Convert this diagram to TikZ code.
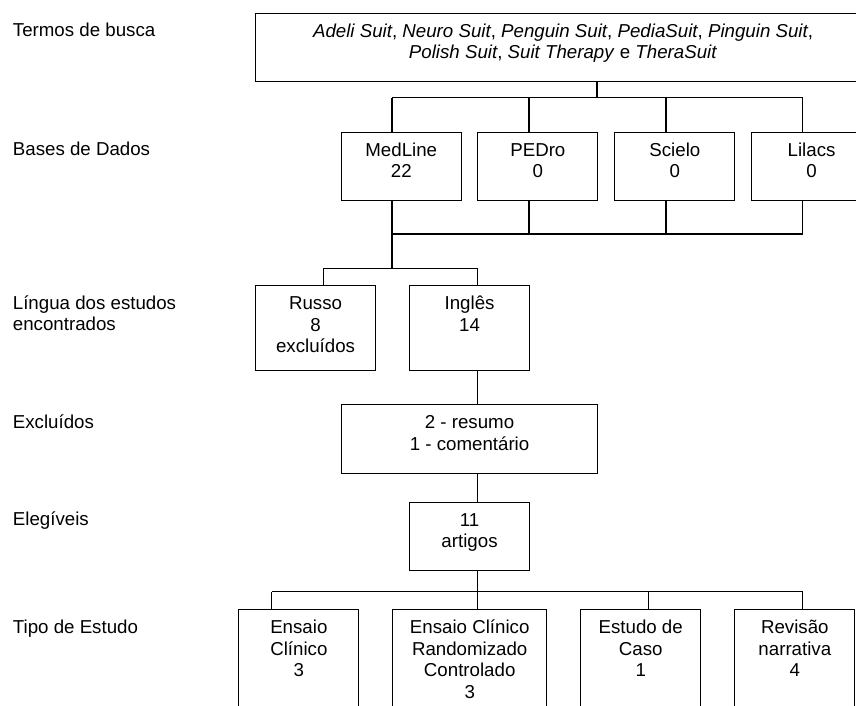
\documentclass[tikz,border=0pt]{standalone}
\usepackage{fontspec}
\setmainfont{Liberation Sans}
\usepackage{tikz}
\newcommand{\caixatexto}[3]{\parbox[t][#2][t]{#1}{\centering\rule{0pt}{24pt}#3}}

\begin{document}
\begin{tikzpicture}[x=1pt,y=-1pt,
  font=\fontsize{18.7}{21.7}\selectfont,
  caixa/.style={draw,line width=1.1pt,inner sep=0pt,anchor=north west},
  rotulo/.style={anchor=base west,inner sep=0pt},
  liga/.style={draw,line width=1.1pt},
]
\useasboundingbox (0,0) rectangle (856,706);
\clip (0,0) rectangle (856,706);
% rotulos das etapas
\node[rotulo] (termos) at (12.7,36.7) {Termos de busca};
\node[rotulo] (bases) at (12.7,155.7) {Bases de Dados};
\node[rotulo] (lingua) at (12.7,309) {\parbox[t]{230pt}{L\'ingua dos estudos\\encontrados}};
\node[rotulo] (exclu) at (12.7,428) {Exclu\'idos};
\node[rotulo] (elegi) at (12.7,525.7) {Eleg\'iveis};
\node[rotulo] (tipo) at (12.7,633) {Tipo de Estudo};
% caixas
\node[caixa] (topo) at (255,12.7) {\caixatexto{615pt}{68pt}{\textit{Adeli Suit}, \textit{Neuro Suit}, \textit{Penguin Suit}, \textit{PediaSuit}, \textit{Pinguin Suit},\\\textit{Polish Suit}, \textit{Suit Therapy} e \textit{TheraSuit}}};
\node[caixa] (medline) at (340.7,131.7) {\caixatexto{120pt}{68.3pt}{MedLine\\22}};
\node[caixa] (pedro) at (477.3,131.7) {\caixatexto{120pt}{68.3pt}{PEDro\\0}};
\node[caixa] (scielo) at (614.3,131.7) {\caixatexto{120pt}{68.3pt}{Scielo\\0}};
\node[caixa] (lilacs) at (751,131.7) {\caixatexto{120pt}{68.3pt}{Lilacs\\0}};
\node[caixa] (russo) at (255,285) {\caixatexto{120pt}{85pt}{Russo\\8\\exclu\'idos}};
\node[caixa] (ingles) at (409,285) {\caixatexto{120pt}{85pt}{Ingl\^es\\14}};
\node[caixa] (excl) at (340.7,404) {\caixatexto{256.6pt}{68.7pt}{2 - resumo\\1 - coment\'ario}};
\node[caixa] (eleg) at (409,501.7) {\caixatexto{120pt}{68.3pt}{11\\artigos}};
\node[caixa] (ensaio) at (238.3,609) {\caixatexto{120pt}{130pt}{Ensaio\\Cl\'inico\\3}};
\node[caixa] (ecrc) at (392.3,609) {\caixatexto{153.7pt}{130pt}{Ensaio Cl\'inico\\Randomizado\\Controlado\\3}};
\node[caixa] (caso) at (580.3,609) {\caixatexto{119.7pt}{130pt}{Estudo de\\Caso\\1}};
\node[caixa] (revisao) at (734.3,609) {\caixatexto{120pt}{130pt}{Revis\~ao\\narrativa\\4}};
% barramentos
\coordinate (bA) at (392,97.7);
\coordinate (cA) at (392,234);
\coordinate (dA) at (323.3,268.3);
\coordinate (eA) at (271.7,591.7);
% ligacoes
\draw[liga] (topo.south -| 597,0) |- (bA);
\foreach \n/\x in {medline/392,pedro/529,scielo/666,lilacs/802.7}{
  \draw[liga] (\n.north -| \x,0) |- (bA);
  \draw[liga] (\n.south -| \x,0) |- (cA);
}
\draw[liga] (cA) |- (dA);
\draw[liga] (russo.north -| dA) -- (dA);
\draw[liga] (ingles.north -| 477.7,0) |- (dA);
\draw[liga] (ingles.south -| 477.7,0) -- (excl.north -| 477.7,0);
\draw[liga] (excl.south -| 477.7,0) -- (eleg.north -| 477.7,0);
\draw[liga] (eleg.south -| 477.7,0) |- (eA);
\foreach \n/\x in {ensaio/271.7,ecrc/477.7,caso/648.7,revisao/802.7}
  \draw[liga] (\n.north -| \x,0) |- (eA);
\end{tikzpicture}
\end{document}
